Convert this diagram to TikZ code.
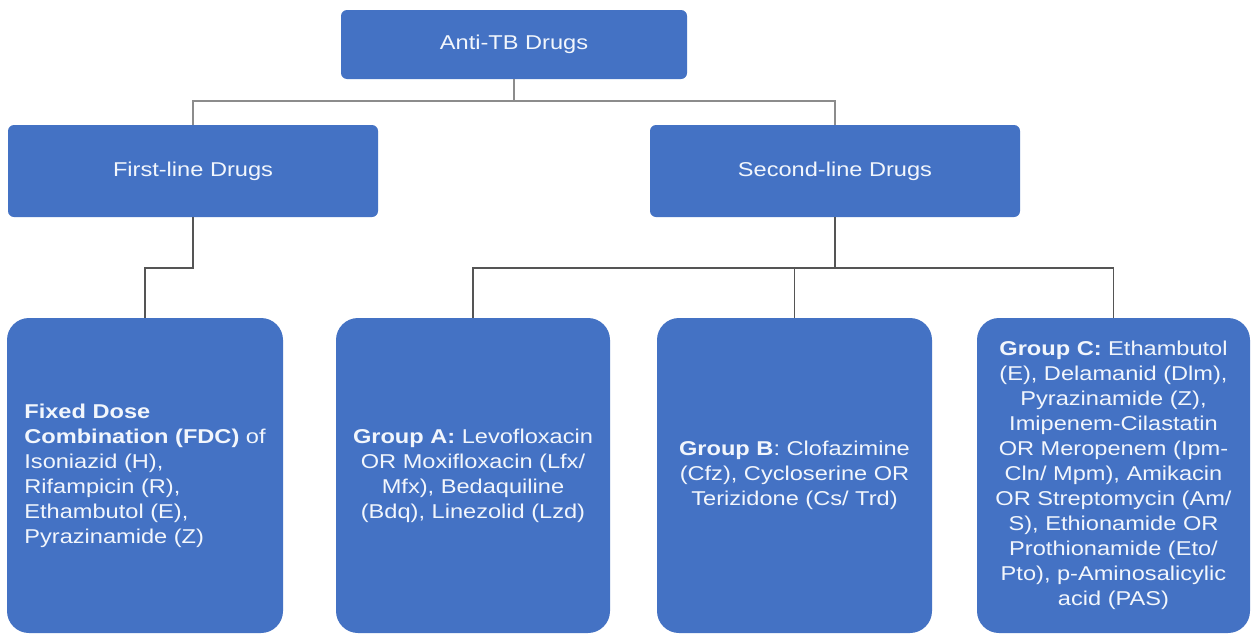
\documentclass[tikz,border=0pt]{standalone}
\usepackage{fontspec}
\setmainfont[FakeStretch=1.18]{Liberation Sans}
\definecolor{boxblue}{RGB}{68,114,196}
\definecolor{boxtext}{RGB}{242,246,252}
\definecolor{linegray}{RGB}{85,85,85}
\definecolor{toplinegray}{RGB}{140,140,140}
\tikzset{
  basebox/.style={fill=boxblue, draw=none, text=boxtext, inner sep=0pt,
    font=\fontsize{20}{25}\selectfont},
  headbox/.style={basebox, rounded corners=6pt},
  leafbox/.style={basebox, rounded corners=22pt, minimum height=315pt},
  conn/.style={draw=linegray, line width=1.4pt},
  topconn/.style={draw=toplinegray, line width=2pt},
}
\begin{document}
\begin{tikzpicture}[x=1pt,y=-1pt]
\useasboundingbox (0,0) rectangle (1252,635);
\fill[white] (0,0) rectangle (1252,635);

\node[headbox, minimum width=346pt, minimum height=69pt] (top) at (514,44.5) {Anti-TB Drugs};
\node[headbox, minimum width=370pt, minimum height=92pt] (first) at (193,171) {First-line Drugs};
\node[headbox, minimum width=370pt, minimum height=92pt] (second) at (835,171) {Second-line Drugs};

\node[leafbox, minimum width=276pt, align=left] (fdc) at (145,475.5)
  {\textbf{Fixed Dose}\\\textbf{Combination (FDC)} of\\Isoniazid (H),\\Rifampicin (R),\\Ethambutol (E),\\Pyrazinamide (Z)};
\node[leafbox, minimum width=274pt, align=center] (ga) at (473,475.5)
  {\textbf{Group A:} Levofloxacin\\OR Moxifloxacin (Lfx/\\Mfx), Bedaquiline\\(Bdq), Linezolid (Lzd)};
\node[leafbox, minimum width=275pt, align=center] (gb) at (794.5,475.5)
  {\textbf{Group B}: Clofazimine\\(Cfz), Cycloserine OR\\Terizidone (Cs/ Trd)};
\node[leafbox, minimum width=273pt, align=center] (gc) at (1113.5,475.5)
  {\textbf{Group C:} Ethambutol\\(E), Delamanid (Dlm),\\Pyrazinamide (Z),\\Imipenem-Cilastatin\\OR Meropenem (Ipm-\\Cln/ Mpm), Amikacin\\OR Streptomycin (Am/\\S), Ethionamide OR\\Prothionamide (Eto/\\Pto), p-Aminosalicylic\\acid (PAS)};

\coordinate (j1) at (514,101);
\coordinate (j2) at (835,268);

\draw[topconn] (top.south) -- (j1);
\draw[topconn] (first.north) |- (j1) -| (second.north);

\draw[conn] (second.south) -- (j2);
\draw[conn] (ga.north) |- (j2) -| (gc.north);
\draw[conn] (gb.north) -- (gb.north |- j2);
\draw[conn] (first.south) -- (first.south |- j2) -| (fdc.north);
\end{tikzpicture}
\end{document}
